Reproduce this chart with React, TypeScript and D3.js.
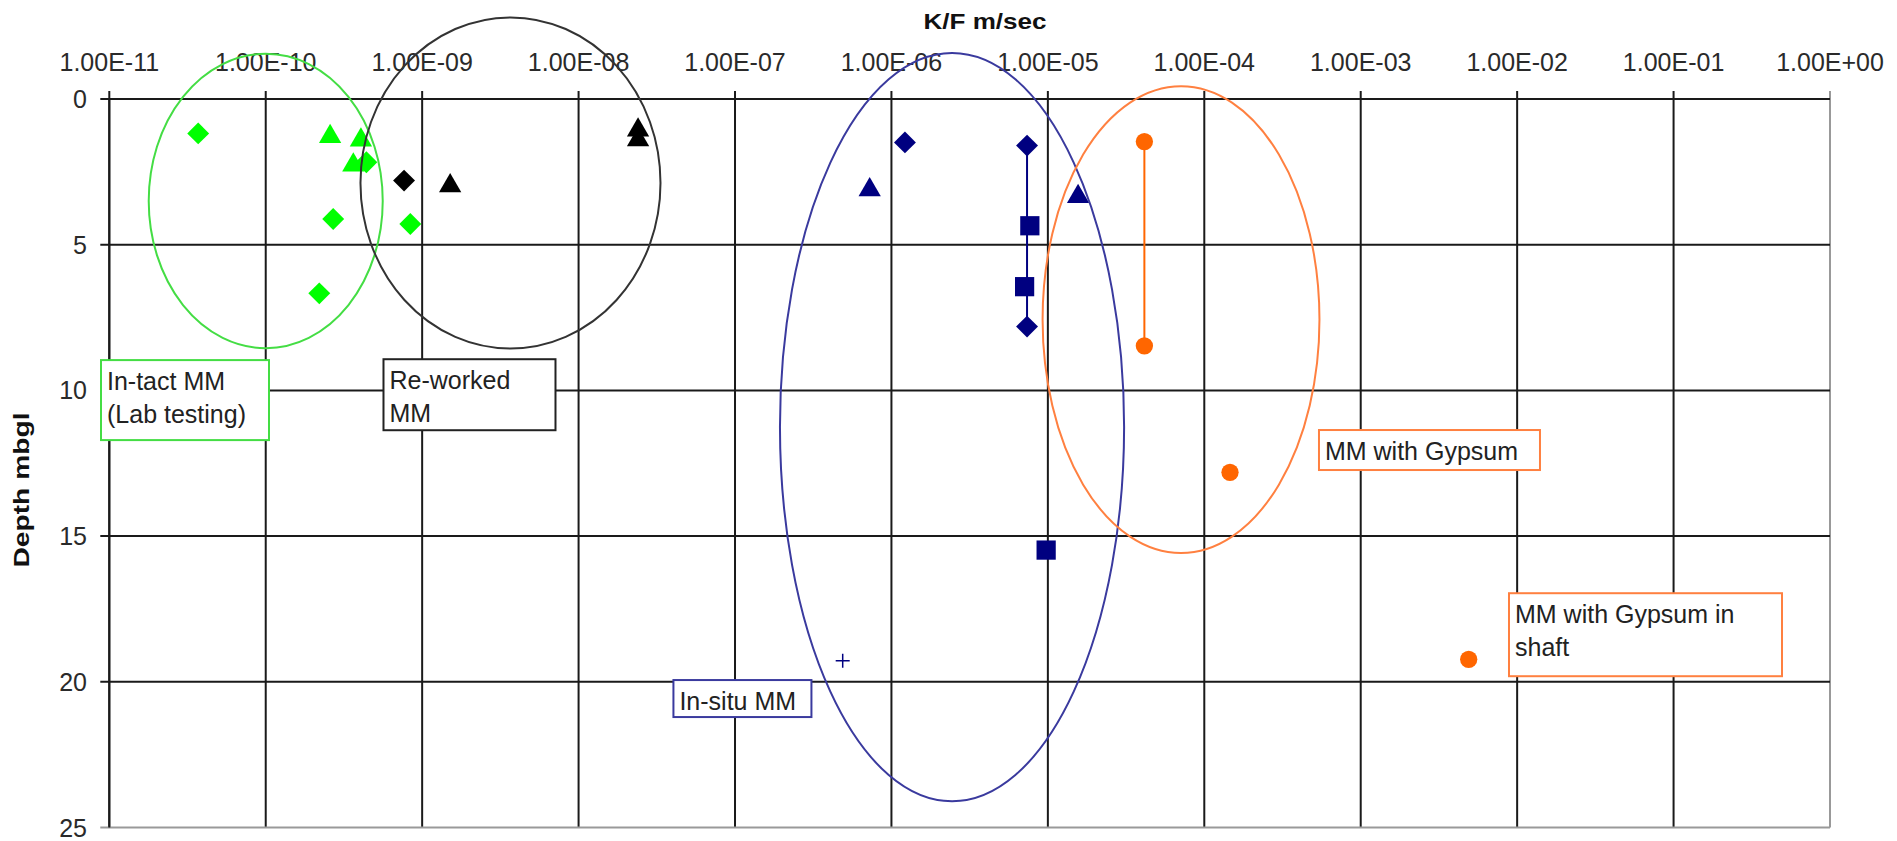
import React from 'react'
import * as d3 from 'd3'

// top axis (K/F m/sec) and left axis (depth mbgl)
const xTickLabels = [
  '1.00E-11', '1.00E-10', '1.00E-09', '1.00E-08', '1.00E-07', '1.00E-06',
  '1.00E-05', '1.00E-04', '1.00E-03', '1.00E-02', '1.00E-01', '1.00E+00',
]
const yTicks = [0, 5, 10, 15, 20, 25]

// [k, depth]
const intactDiamonds = [[3.7e-11, 1.18], [2.7e-10, 4.12], [8.4e-10, 4.29], [4.4e-10, 2.17], [2.2e-10, 6.67]]
const intactTriangles = [[2.58e-10, 1.29], [4.06e-10, 1.41], [3.63e-10, 2.27]]
const reworkedDiamonds = [[7.66e-10, 2.8]]
const reworkedTriangles = [[1.51e-9, 2.98], [2.4e-8, 1.07], [2.4e-8, 1.4]]
const insituDiamonds = [[1.22e-6, 1.49]]
const insituLine = [[7.36e-6, 1.6], [7.36e-6, 7.81]]
const insituTriangles = [[7.26e-7, 3.12], [1.56e-5, 3.35]]
const insituSquares = [[7.67e-6, 4.35], [7.1e-6, 6.44], [9.75e-6, 15.48]]
const insituPlus = [[4.88e-7, 19.28]]
const gypsumLine = [[4.14e-5, 1.46], [4.14e-5, 8.47]]
const gypsumPoints = [[1.46e-4, 12.81], [4.9e-3, 19.23]]

// grouping ellipses: centre k, centre depth, x radius (decades), y radius (m)
const ellipses = [
  { cx: 1e-10, cy: 3.5, rdec: 0.748, ry: 5.05, color: '#44dd44' },
  { cx: 3.67e-9, cy: 2.88, rdec: 0.959, ry: 5.68, color: '#333333' },
  { cx: 2.44e-6, cy: 11.26, rdec: 1.1, ry: 12.84, color: '#3a3a9e' },
  { cx: 7.1e-5, cy: 7.57, rdec: 0.885, ry: 8.01, color: '#ff8040' },
]

const labels = [
  { k: 8.85e-12, d: 8.96, lines: ['In-tact MM', '(Lab testing)'], w: 168, h: 80, color: '#44dd44' },
  { k: 5.66e-10, d: 8.93, lines: ['Re-worked', 'MM'], w: 172, h: 71, color: '#222222' },
  { k: 4.04e-8, d: 19.94, lines: ['In-situ MM'], w: 138, h: 37, color: '#3a3a9e' },
  { k: 5.41e-4, d: 11.36, lines: ['MM with Gypsum'], w: 221, h: 40, color: '#ff8040' },
  { k: 8.87e-3, d: 16.96, lines: ['MM with Gypsum in', 'shaft'], w: 273, h: 83, color: '#ff8040' },
]

const W = 1897
const H = 841
const font = "'Liberation Sans', Arial, sans-serif"

const x = d3.scaleLog().domain([1e-11, 1]).range([109.3, 1830])
const y = d3.scaleLinear().domain([0, 25]).range([99, 827.5])

const diamond = d3.symbol(d3.symbolSquare, 240)()
const triangle = d3.symbol(d3.symbolTriangle, 215)()
const square = d3.symbol(d3.symbolSquare, 370)()
const circle = d3.symbol(d3.symbolCircle, 235)()

const Marks = ({ data, path, fill, rotate = 0 }) => (
  <g>
    {data.map(([k, d], i) => (
      <path
        key={i}
        d={path}
        fill={fill}
        transform={`translate(${x(k)},${y(d)}) rotate(${rotate})`}
      />
    ))}
  </g>
)

const App = () => {
  const xTicks = xTickLabels.map(Number)
  const line = d3.line().x((p) => x(p[0])).y((p) => y(p[1]))
  const left = x.range()[0]
  const right = x.range()[1]
  const top = y(0)
  const bottom = y(25)

  return (
    <svg
      width={W}
      height={H}
      style={{ position: 'absolute', left: 0, top: 0, display: 'block', background: '#fff' }}
      fontFamily={font}
    >
      {/* grid */}
      {xTicks.map((t, i) => (
        <line
          key={'vx' + i}
          x1={x(t)} x2={x(t)} y1={top - 8} y2={bottom}
          stroke={i === xTicks.length - 1 ? '#999' : '#1a1a1a'}
          strokeWidth={2}
        />
      ))}
      {yTicks.map((t, i) => (
        <line
          key={'hy' + i}
          x1={left - 9} x2={right} y1={y(t)} y2={y(t)}
          stroke={t === 25 ? '#999' : '#1a1a1a'}
          strokeWidth={2}
        />
      ))}
      <line x1={left} x2={left} y1={top} y2={bottom} stroke="#1a1a1a" strokeWidth={2} />

      {/* tick labels */}
      {xTicks.map((t, i) => (
        <text key={'tx' + i} x={x(t)} y={71} textAnchor="middle" fontSize={25} fill="#2a2a2a">
          {xTickLabels[i]}
        </text>
      ))}
      {yTicks.map((t) => (
        <text key={'ty' + t} x={87} y={y(t) + 9} textAnchor="end" fontSize={25} fill="#2a2a2a">
          {t}
        </text>
      ))}

      {/* axis titles */}
      <text
        x={985} y={29} textAnchor="middle" fontSize={22} fontWeight="bold"
        textLength={123} lengthAdjust="spacingAndGlyphs" fill="#111"
      >
        K/F m/sec
      </text>
      <text
        transform="translate(29,490) rotate(-90)" textAnchor="middle" fontSize={22}
        fontWeight="bold" textLength={155} lengthAdjust="spacingAndGlyphs" fill="#111"
      >
        Depth mbgl
      </text>

      {/* series */}
      <path d={line(insituLine)} fill="none" stroke="#000080" strokeWidth={2} />
      <path d={line(gypsumLine)} fill="none" stroke="#ff6600" strokeWidth={2} />

      <Marks data={intactDiamonds} path={diamond} fill="#00ff00" rotate={45} />
      <Marks data={intactTriangles} path={triangle} fill="#00ff00" />
      <Marks data={reworkedDiamonds} path={diamond} fill="#000000" rotate={45} />
      <Marks data={reworkedTriangles} path={triangle} fill="#000000" />
      <Marks data={insituDiamonds} path={diamond} fill="#000080" rotate={45} />
      <Marks data={insituLine} path={diamond} fill="#000080" rotate={45} />
      <Marks data={insituTriangles} path={triangle} fill="#000080" />
      <Marks data={insituSquares} path={square} fill="#000080" />
      {insituPlus.map(([k, d], i) => (
        <path
          key={'p' + i}
          d="M-7,0H7M0,-7V7"
          stroke="#000080"
          strokeWidth={1.5}
          transform={`translate(${x(k)},${y(d)})`}
        />
      ))}
      <Marks data={gypsumLine} path={circle} fill="#ff6600" />
      <Marks data={gypsumPoints} path={circle} fill="#ff6600" />

      {/* grouping ellipses */}
      {ellipses.map((e, i) => {
        const cx = x(e.cx)
        const rx = x(e.cx * Math.pow(10, e.rdec)) - cx
        const ry = y(e.ry) - y(0)
        return (
          <ellipse
            key={'e' + i}
            cx={cx} cy={y(e.cy)} rx={rx} ry={ry}
            fill="none" stroke={e.color} strokeWidth={2}
          />
        )
      })}

      {/* labels */}
      {labels.map((l, i) => {
        const bx = x(l.k)
        const by = y(l.d)
        return (
          <g key={'l' + i}>
            <rect x={bx} y={by} width={l.w} height={l.h} fill="#fff" stroke={l.color} strokeWidth={2} />
            {l.lines.map((s, j) => (
              <text key={j} x={bx + 6} y={by + 30 + j * 33} fontSize={25} fill="#222">
                {s}
              </text>
            ))}
          </g>
        )
      })}
    </svg>
  )
}

export default App
